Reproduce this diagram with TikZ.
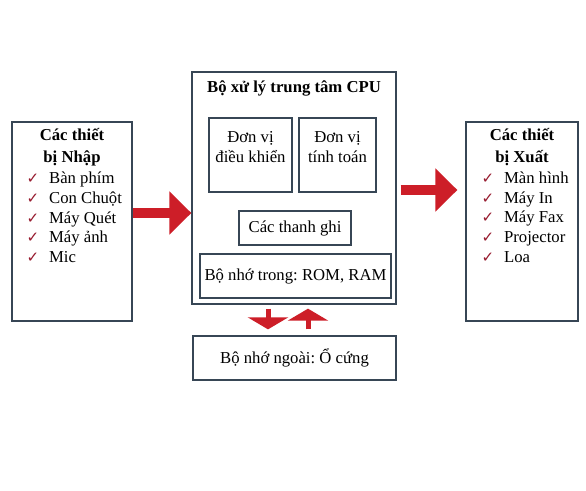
\documentclass[tikz,border=0pt]{standalone}
\usepackage{fontspec}
\setmainfont{Liberation Serif}
\newfontfamily\symfont{DejaVu Sans}
\usetikzlibrary{arrows.meta}
\usetikzlibrary{positioning}
\frenchspacing
\definecolor{boxline}{RGB}{55,70,85}
\definecolor{arrowred}{RGB}{205,30,40}
\definecolor{tickred}{RGB}{150,25,45}
\newcommand{\tickmark}{{\symfont\fontsize{15}{15}\selectfont\color{tickred}✓}\hspace{0.6em}}

\begin{document}
\begin{tikzpicture}[x=1pt, y=-1pt,
  box/.style={draw=boxline, line width=1.3pt, inner sep=0pt},
  lbl/.style={font=\fontsize{16.7}{19.7}\selectfont, align=center, inner sep=0pt},
  ttl/.style={lbl, font=\fontsize{16.7}{21.5}\selectfont\bfseries},
  items/.style={lbl, align=left},
  fatarrow/.style={-{Triangle[width=42pt,length=22pt]}, line width=10pt, arrowred},
  vertarrow/.style={-{Triangle[width=40pt,length=12pt]}, line width=5pt, arrowred}]
  \fill[white] (0,0) rectangle (586,490);
  \useasboundingbox (0,0) rectangle (586,490);
  % input devices
  \node[box, minimum width=120, minimum height=199] (inbox) at (72,221.5) {};
  \node[ttl, below=7pt of inbox.north] (intitle) {Các thiết\\bị Nhập};
  \node[items, anchor=north west] (inlist) at ([xshift=15pt,yshift=-6pt]intitle.south -| inbox.west)
    {\tickmark Bàn phím\\ \tickmark Con Chuột\\ \tickmark Máy Quét\\ \tickmark Máy ảnh\\ \tickmark Mic};
  % the CPU and its parts
  \node[box, minimum width=204, minimum height=232] (cpu) at (294,188) {};
  \node[ttl, below=9pt of cpu.north] (cputitle) {Bộ xử lý trung tâm CPU};
  \node[box, minimum width=83, minimum height=74] (ctrl) at (250.5,155) {};
  \node[lbl, below=14pt of ctrl.north] (ctrltext) {Đơn vị\\điều khiển};
  \node[box, minimum width=77, minimum height=74] (alu) at (337.5,155) {};
  \node[lbl, below=14pt of alu.north] (alutext) {Đơn vị\\tính toán};
  \node[box, lbl, minimum width=112, minimum height=34] (reg) at (295,228) {Các thanh ghi};
  \node[box, lbl, minimum width=191, minimum height=44] (ram) at (295.5,276) {Bộ nhớ trong: ROM, RAM};
  % output devices
  \node[box, minimum width=112, minimum height=199] (outbox) at (522,221.5) {};
  \node[ttl, below=7pt of outbox.north] (outtitle) {Các thiết\\bị Xuất};
  \node[items, anchor=north west] (outlist) at ([xshift=16pt,yshift=-6pt]outtitle.south -| outbox.west)
    {\tickmark Màn hình\\ \tickmark Máy In\\ \tickmark Máy Fax\\ \tickmark Projector\\ \tickmark Loa};
  % external storage
  \node[box, lbl, minimum width=203, minimum height=44] (ext) at (294.5,358) {Bộ nhớ ngoài: Ổ cứng};
  % data flow
  \draw[fatarrow] (inbox.east |- 0,213) -- (cpu.west |- 0,213);
  \draw[fatarrow, shorten <=4pt, shorten >=8pt] (cpu.east |- 0,190) -- (outbox.west |- 0,190);
  \draw[vertarrow, shorten <=4pt, shorten >=6pt] (cpu.south -| 268,0) -- (ext.north -| 268,0);
  \draw[vertarrow, shorten <=6pt, shorten >=4pt] (ext.north -| 308,0) -- (cpu.south -| 308,0);
\end{tikzpicture}
\end{document}
